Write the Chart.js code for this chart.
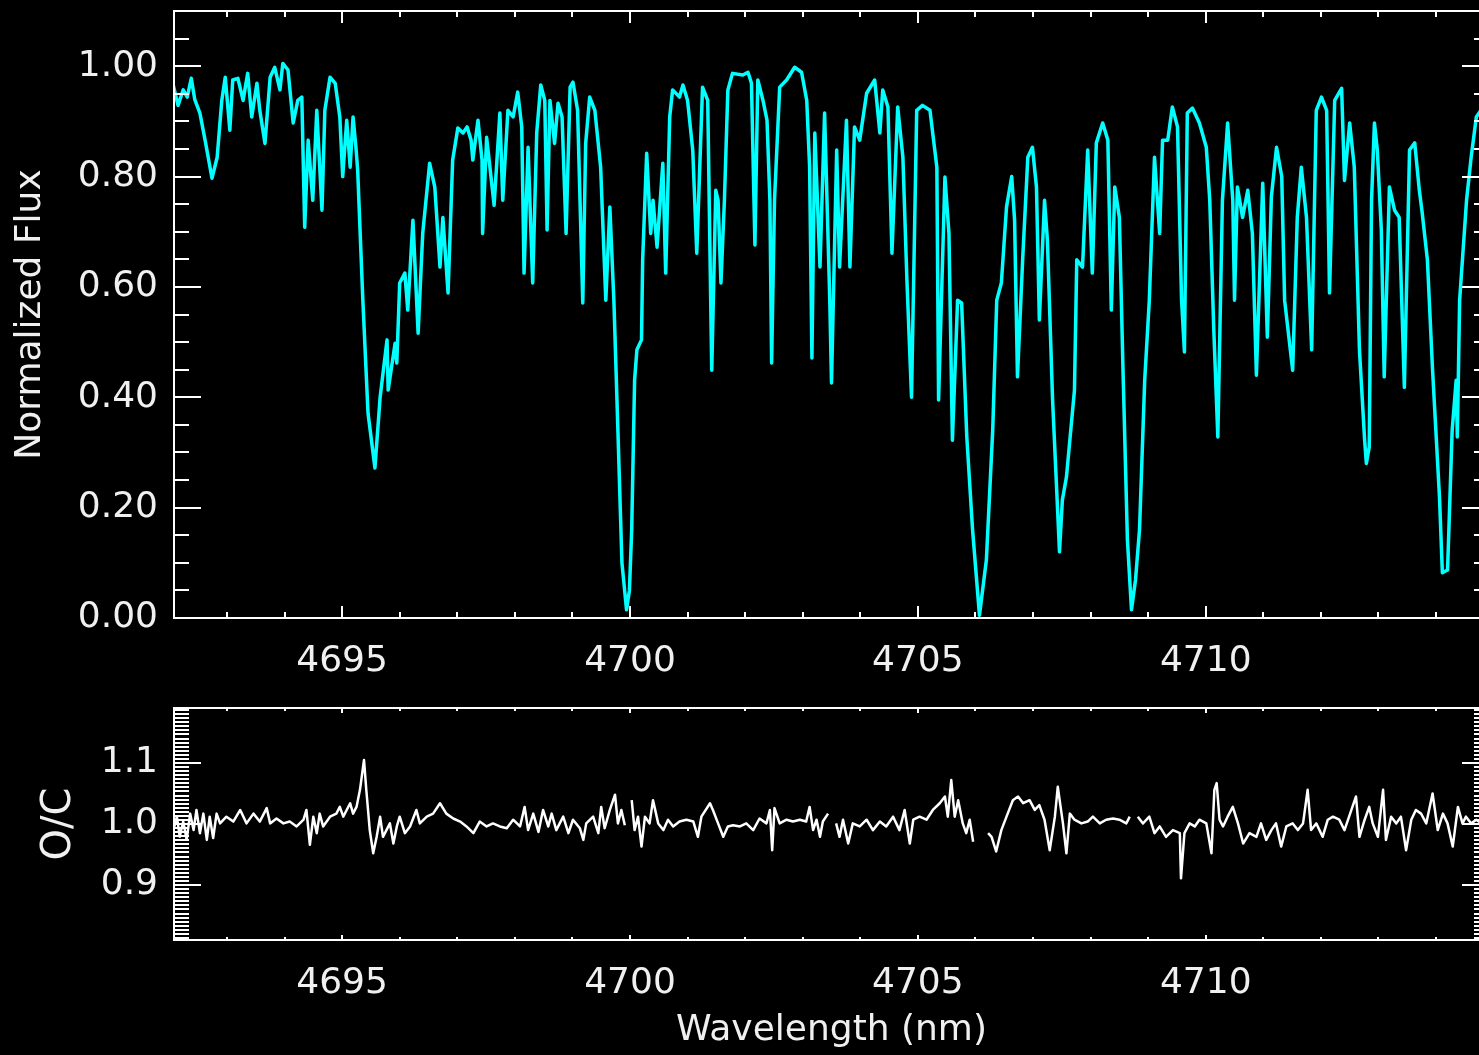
<!DOCTYPE html>
<html>
<head>
<meta charset="utf-8">
<title>Normalized flux and O/C residuals, 4692-4715 nm</title>
<script src="https://cdn.jsdelivr.net/npm/chart.js@4.4.1/dist/chart.umd.min.js"></script>
<style>
  html, body { margin: 0; padding: 0; background: #000; width: 1479px; height: 1055px; overflow: hidden; }
  #wrap { position: relative; width: 1479px; height: 1055px; overflow: hidden; background: #000; }
  #wrap canvas { position: absolute; left: 0; }
  #fluxChart { top: 0; }
  #ratioChart { top: 700px; }
</style>
</head>
<body>
<div id="wrap">
  <canvas id="fluxChart" width="1500" height="700"></canvas>
  <canvas id="ratioChart" width="1500" height="355"></canvas>
</div>
<script>
// ---- wavelength range and axis ticks ----
const waveMin = 4692.08;
const waveMax = 4714.92;
const waveTicks = [4695, 4700, 4705, 4710];
const fluxTicks = [0, 0.2, 0.4, 0.6, 0.8, 1.0];
const ratioTicks = [0.9, 1.0, 1.1];

// ---- model spectrum (normalized flux) ----
const specWave = [
  4692.06, 4692.15, 4692.24, 4692.31, 4692.38, 4692.44, 4692.53, 4692.62, 4692.74, 4692.83,
  4692.91, 4692.97, 4693.05, 4693.10, 4693.19, 4693.28, 4693.36, 4693.43, 4693.52, 4693.57,
  4693.66, 4693.75, 4693.83, 4693.92, 4693.97, 4694.06, 4694.15, 4694.23, 4694.30, 4694.35,
  4694.41, 4694.49, 4694.56, 4694.65, 4694.70, 4694.79, 4694.88, 4694.96, 4695.01, 4695.08,
  4695.14, 4695.19, 4695.24, 4695.27, 4695.36, 4695.45, 4695.57, 4695.66, 4695.78, 4695.80,
  4695.92, 4695.95, 4696.00, 4696.09, 4696.14, 4696.23, 4696.32, 4696.40, 4696.52, 4696.61,
  4696.70, 4696.75, 4696.84, 4696.92, 4697.01, 4697.10, 4697.17, 4697.24, 4697.27, 4697.36,
  4697.43, 4697.44, 4697.51, 4697.64, 4697.74, 4697.79, 4697.88, 4697.97, 4698.05, 4698.12,
  4698.16, 4698.23, 4698.31, 4698.38, 4698.45, 4698.52, 4698.56, 4698.61, 4698.69, 4698.75,
  4698.82, 4698.89, 4698.96, 4699.01, 4699.09, 4699.18, 4699.23, 4699.30, 4699.39, 4699.49,
  4699.58, 4699.65, 4699.72, 4699.79, 4699.86, 4699.94, 4699.99, 4700.03, 4700.08, 4700.12,
  4700.20, 4700.22, 4700.29, 4700.36, 4700.40, 4700.47, 4700.57, 4700.62, 4700.69, 4700.74,
  4700.86, 4700.92, 4701.00, 4701.09, 4701.16, 4701.26, 4701.35, 4701.42, 4701.49, 4701.53,
  4701.58, 4701.64, 4701.70, 4701.78, 4701.96, 4702.05, 4702.11, 4702.17, 4702.22, 4702.31,
  4702.38, 4702.43, 4702.46, 4702.51, 4702.60, 4702.72, 4702.86, 4702.98, 4703.07, 4703.12,
  4703.16, 4703.21, 4703.30, 4703.38, 4703.47, 4703.50, 4703.59, 4703.64, 4703.76, 4703.82,
  4703.90, 4703.99, 4704.11, 4704.25, 4704.34, 4704.39, 4704.48, 4704.55, 4704.65, 4704.74,
  4704.81, 4704.89, 4704.98, 4705.08, 4705.21, 4705.33, 4705.36, 4705.47, 4705.54, 4705.60,
  4705.69, 4705.76, 4705.85, 4705.95, 4706.07, 4706.19, 4706.30, 4706.37, 4706.45, 4706.54,
  4706.63, 4706.68, 4706.73, 4706.82, 4706.91, 4706.99, 4707.06, 4707.11, 4707.20, 4707.25,
  4707.34, 4707.46, 4707.51, 4707.58, 4707.72, 4707.76, 4707.86, 4707.95, 4708.03, 4708.10,
  4708.21, 4708.30, 4708.36, 4708.42, 4708.50, 4708.56, 4708.64, 4708.71, 4708.78, 4708.85,
  4708.94, 4709.02, 4709.11, 4709.20, 4709.25, 4709.34, 4709.42, 4709.51, 4709.58, 4709.63,
  4709.68, 4709.77, 4709.89, 4710.01, 4710.07, 4710.14, 4710.21, 4710.29, 4710.38, 4710.47,
  4710.50, 4710.55, 4710.64, 4710.73, 4710.81, 4710.88, 4710.99, 4711.07, 4711.14, 4711.23,
  4711.32, 4711.37, 4711.51, 4711.59, 4711.66, 4711.75, 4711.84, 4711.92, 4712.01, 4712.10,
  4712.15, 4712.24, 4712.36, 4712.41, 4712.50, 4712.58, 4712.67, 4712.76, 4712.79, 4712.84,
  4712.88, 4712.93, 4712.98, 4713.05, 4713.10, 4713.19, 4713.28, 4713.36, 4713.45, 4713.54,
  4713.63, 4713.71, 4713.76, 4713.85, 4713.94, 4714.06, 4714.11, 4714.20, 4714.28, 4714.35,
  4714.37, 4714.41, 4714.53, 4714.61, 4714.70, 4714.78, 4714.92
];
const specFlux = [
  0.969, 0.929, 0.957, 0.944, 0.978, 0.940, 0.915, 0.866, 0.797, 0.835,
  0.938, 0.980, 0.884, 0.975, 0.978, 0.938, 0.987, 0.908, 0.969, 0.920,
  0.860, 0.980, 0.998, 0.957, 1.005, 0.993, 0.897, 0.938, 0.944, 0.708,
  0.866, 0.757, 0.920, 0.739, 0.920, 0.980, 0.969, 0.908, 0.800, 0.902,
  0.817, 0.908, 0.853, 0.812, 0.576, 0.371, 0.272, 0.400, 0.504, 0.413,
  0.498, 0.462, 0.607, 0.625, 0.558, 0.721, 0.516, 0.697, 0.824, 0.781,
  0.636, 0.726, 0.589, 0.830, 0.888, 0.879, 0.890, 0.866, 0.830, 0.902,
  0.830, 0.697, 0.871, 0.748, 0.915, 0.757, 0.920, 0.908, 0.953, 0.890,
  0.625, 0.853, 0.607, 0.879, 0.966, 0.938, 0.703, 0.938, 0.860, 0.933,
  0.908, 0.697, 0.962, 0.971, 0.920, 0.571, 0.860, 0.944, 0.920, 0.817,
  0.576, 0.745, 0.576, 0.340, 0.100, 0.015, 0.050, 0.160, 0.431, 0.486,
  0.504, 0.649, 0.842, 0.697, 0.757, 0.672, 0.824, 0.625, 0.908, 0.957,
  0.944, 0.966, 0.938, 0.848, 0.661, 0.962, 0.938, 0.449, 0.775, 0.757,
  0.607, 0.757, 0.957, 0.987, 0.984, 0.989, 0.969, 0.676, 0.975, 0.938,
  0.902, 0.757, 0.462, 0.757, 0.962, 0.975, 0.998, 0.989, 0.938, 0.817,
  0.471, 0.879, 0.636, 0.915, 0.576, 0.426, 0.848, 0.636, 0.902, 0.636,
  0.890, 0.866, 0.951, 0.975, 0.879, 0.957, 0.926, 0.661, 0.926, 0.835,
  0.612, 0.400, 0.920, 0.929, 0.920, 0.817, 0.395, 0.799, 0.697, 0.322,
  0.576, 0.571, 0.328, 0.160, 0.005, 0.105, 0.340, 0.576, 0.607, 0.745,
  0.800, 0.721, 0.437, 0.649, 0.835, 0.853, 0.781, 0.540, 0.757, 0.685,
  0.395, 0.120, 0.214, 0.255, 0.413, 0.649, 0.636, 0.848, 0.625, 0.861,
  0.897, 0.866, 0.558, 0.781, 0.726, 0.462, 0.141, 0.015, 0.069, 0.160,
  0.431, 0.576, 0.835, 0.697, 0.866, 0.866, 0.926, 0.890, 0.576, 0.482,
  0.915, 0.924, 0.897, 0.853, 0.757, 0.522, 0.328, 0.757, 0.897, 0.757,
  0.576, 0.781, 0.726, 0.775, 0.697, 0.440, 0.788, 0.509, 0.763, 0.853,
  0.800, 0.576, 0.449, 0.726, 0.817, 0.726, 0.486, 0.920, 0.944, 0.920,
  0.589, 0.938, 0.960, 0.793, 0.897, 0.817, 0.486, 0.322, 0.280, 0.310,
  0.757, 0.897, 0.848, 0.703, 0.437, 0.781, 0.739, 0.726, 0.418, 0.848,
  0.861, 0.775, 0.734, 0.649, 0.449, 0.219, 0.082, 0.087, 0.340, 0.431,
  0.328, 0.576, 0.757, 0.835, 0.908, 0.920, 0.930
];

// ---- observed / computed ratio (null = masked line core) ----
const ratioWave = [
  4692.07, 4692.13, 4692.18, 4692.24, 4692.30, 4692.36, 4692.42, 4692.47, 4692.53, 4692.59,
  4692.65, 4692.70, 4692.76, 4692.82, 4692.88, 4692.99, 4693.11, 4693.23, 4693.34, 4693.46,
  4693.57, 4693.69, 4693.75, 4693.86, 4693.98, 4694.09, 4694.21, 4694.33, 4694.38, 4694.44,
  4694.50, 4694.56, 4694.61, 4694.67, 4694.79, 4694.90, 4694.96, 4695.02, 4695.14, 4695.19,
  4695.25, 4695.31, 4695.38, 4695.42, 4695.48, 4695.54, 4695.60, 4695.66, 4695.71, 4695.83,
  4695.89, 4695.95, 4696.00, 4696.09, 4696.18, 4696.29, 4696.35, 4696.47, 4696.58, 4696.70,
  4696.81, 4696.93, 4697.05, 4697.16, 4697.28, 4697.39, 4697.51, 4697.62, 4697.74, 4697.86,
  4697.97, 4698.09, 4698.17, 4698.23, 4698.32, 4698.41, 4698.49, 4698.58, 4698.64, 4698.72,
  4698.84, 4698.93, 4699.01, 4699.13, 4699.19, 4699.24, 4699.36, 4699.45, 4699.50, 4699.56,
  4699.65, 4699.74, 4699.79, 4699.85, 4699.91, 4699.96, 4700.03, 4700.08, 4700.14, 4700.20,
  4700.26, 4700.34, 4700.40, 4700.49, 4700.58, 4700.66, 4700.75, 4700.86, 4700.98, 4701.10,
  4701.18, 4701.24, 4701.39, 4701.44, 4701.53, 4701.62, 4701.70, 4701.79, 4701.91, 4702.02,
  4702.14, 4702.25, 4702.37, 4702.43, 4702.47, 4702.51, 4702.60, 4702.72, 4702.83, 4702.95,
  4703.06, 4703.12, 4703.18, 4703.24, 4703.30, 4703.35, 4703.44, 4703.48, 4703.58, 4703.64,
  4703.70, 4703.79, 4703.87, 4703.99, 4704.11, 4704.22, 4704.34, 4704.45, 4704.57, 4704.68,
  4704.77, 4704.86, 4704.92, 4705.03, 4705.15, 4705.26, 4705.38, 4705.47, 4705.52, 4705.58,
  4705.64, 4705.70, 4705.78, 4705.84, 4705.90, 4705.96, 4706.05, 4706.22, 4706.28, 4706.36,
  4706.45, 4706.54, 4706.65, 4706.74, 4706.83, 4706.94, 4707.03, 4707.11, 4707.20, 4707.29,
  4707.38, 4707.43, 4707.52, 4707.58, 4707.64, 4707.72, 4707.84, 4707.95, 4708.04, 4708.16,
  4708.27, 4708.39, 4708.50, 4708.62, 4708.68, 4708.72, 4708.82, 4708.91, 4709.02, 4709.11,
  4709.20, 4709.31, 4709.43, 4709.55, 4709.57, 4709.63, 4709.72, 4709.81, 4709.89, 4710.01,
  4710.10, 4710.15, 4710.19, 4710.24, 4710.30, 4710.38, 4710.47, 4710.56, 4710.65, 4710.76,
  4710.88, 4710.96, 4711.05, 4711.14, 4711.22, 4711.31, 4711.40, 4711.51, 4711.60, 4711.69,
  4711.77, 4711.83, 4711.92, 4712.03, 4712.12, 4712.21, 4712.32, 4712.41, 4712.53, 4712.61,
  4712.67, 4712.76, 4712.84, 4712.90, 4712.99, 4713.08, 4713.13, 4713.22, 4713.31, 4713.39,
  4713.48, 4713.57, 4713.65, 4713.74, 4713.83, 4713.94, 4714.03, 4714.12, 4714.20, 4714.29,
  4714.38, 4714.46, 4714.52, 4714.61, 4714.70, 4714.80
];
const ratioValue = [
  0.990, 1.012, 0.979, 1.004, 0.974, 1.017, 0.990, 1.023, 0.985, 1.017,
  0.974, 1.012, 0.977, 1.017, 1.001, 1.012, 1.004, 1.023, 1.001, 1.017,
  1.004, 1.026, 1.001, 1.009, 1.001, 1.004, 0.996, 1.007, 1.023, 0.966,
  1.012, 0.985, 1.017, 0.996, 1.012, 1.017, 1.028, 1.012, 1.034, 1.017,
  1.028, 1.056, 1.105, 1.056, 0.990, 0.952, 0.979, 1.012, 0.979, 1.001,
  0.968, 0.996, 1.012, 0.985, 0.996, 1.023, 1.001, 1.012, 1.017, 1.034,
  1.017, 1.009, 1.004, 0.996, 0.985, 1.004, 0.996, 1.001, 0.996, 0.993,
  1.007, 0.996, 1.028, 0.990, 1.017, 0.987, 1.023, 0.996, 1.017, 0.990,
  1.012, 0.985, 1.007, 0.993, 0.974, 1.001, 1.012, 0.985, 1.028, 0.993,
  1.023, 1.048, 1.001, 1.023, 0.998, null, 1.039, 0.990, 1.012, 0.963,
  1.012, 1.001, 1.039, 1.001, 0.990, 1.007, 0.996, 1.004, 1.007, 1.004,
  0.979, 1.012, 1.034, 1.023, 1.001, 0.979, 0.996, 0.998, 0.996, 1.001,
  0.990, 1.009, 1.001, 1.023, 0.957, 1.026, 1.001, 1.007, 1.004, 1.007,
  1.004, 1.028, 0.990, 1.007, 0.979, 1.004, 1.017, null, 1.001, 0.979,
  1.007, 0.968, 1.001, 0.996, 1.007, 0.990, 1.004, 0.996, 1.012, 0.990,
  1.023, 0.968, 1.007, 1.012, 1.007, 1.023, 1.034, 1.045, 1.012, 1.072,
  1.012, 1.039, 1.001, 0.985, 1.007, 0.971, null, 0.985, 0.979, 0.955,
  0.990, 1.012, 1.039, 1.045, 1.034, 1.039, 1.023, 1.031, 1.007, 0.957,
  1.012, 1.061, 1.001, 0.952, 1.017, 1.007, 1.001, 1.004, 1.012, 1.001,
  1.007, 1.009, 1.007, 1.001, 1.012, null, 1.012, 1.001, 1.012, 0.985,
  0.996, 0.979, 0.990, 0.985, 0.911, 0.985, 1.001, 0.996, 1.007, 1.001,
  0.952, 1.056, 1.067, 1.007, 0.996, 1.012, 1.028, 1.001, 0.968, 0.985,
  0.979, 1.001, 0.974, 0.990, 1.001, 0.963, 0.996, 1.001, 0.990, 1.001,
  1.056, 0.990, 1.001, 0.979, 1.007, 1.012, 1.007, 0.990, 1.023, 1.045,
  0.979, 1.007, 1.028, 1.001, 0.979, 1.056, 0.974, 1.012, 1.001, 1.012,
  0.957, 1.007, 1.023, 1.017, 1.001, 1.050, 0.990, 1.017, 1.001, 0.963,
  1.028, 1.001, 1.012, 1.001, 1.007, 1.000
];

// ---- styling ----
const FONT = '"DejaVu Sans", "Liberation Sans", Arial, sans-serif';
const INK = '#f0f0f0';

const toPoints = (xs, ys) => xs.map((x, i) => ({ x: x, y: ys[i] }));

// minor tick values between min and max on a regular step
function stepValues(min, max, step) {
  const out = [];
  for (let k = Math.ceil(min / step - 1e-6); k * step <= max + 1e-9; k++) {
    out.push(k * step);
  }
  return out;
}

// Closed plot box with inward ticks on all four sides (IDL style)
const boxTicks = {
  id: 'boxTicks',
  afterDatasetsDraw(chart, _args, o) {
    const { ctx, chartArea: a } = chart;
    const xs = chart.scales.x, ys = chart.scales.y;
    const major = (scale, v, step) => scale.ticks.some(t => Math.abs(t.value - v) < step / 2);
    ctx.save();
    ctx.strokeStyle = o.color;
    ctx.lineWidth = o.width;
    ctx.lineCap = 'butt';
    ctx.beginPath();
    for (const v of stepValues(xs.min, xs.max, o.xStep)) {
      const p = Math.round(xs.getPixelForValue(v));
      const len = major(xs, v, o.xStep) ? o.xMajor : o.xMinor;
      ctx.moveTo(p, a.bottom); ctx.lineTo(p, a.bottom - len);
      ctx.moveTo(p, a.top);    ctx.lineTo(p, a.top + len);
    }
    for (const v of stepValues(ys.min, ys.max, o.yStep)) {
      const p = Math.round(ys.getPixelForValue(v));
      const len = major(ys, v, o.yStep) ? o.yMajor : o.yMinor;
      ctx.moveTo(a.left, p);  ctx.lineTo(a.left + len, p);
      ctx.moveTo(a.right, p); ctx.lineTo(a.right - len, p);
    }
    ctx.stroke();
    ctx.strokeRect(a.left, a.top, a.right - a.left, a.bottom - a.top);
    ctx.restore();
  }
};

function panelOptions(p) {
  return {
    responsive: false,
    animation: false,
    devicePixelRatio: 1,
    layout: { padding: { left: 0, top: p.padTop, right: 11, bottom: 0 } },
    plugins: {
      legend: { display: false },
      tooltip: { enabled: false },
      boxTicks: Object.assign({ color: '#ffffff', width: 2, xStep: 1 }, p.ticks)
    },
    scales: {
      x: {
        type: 'linear',
        min: waveMin,
        max: waveMax,
        afterBuildTicks: s => { s.ticks = waveTicks.map(v => ({ value: v })); },
        afterFit: s => { s.height = p.xHeight; s.paddingLeft = 0; s.paddingRight = 0; },
        grid: { display: false, drawTicks: false },
        border: { display: false },
        ticks: {
          color: INK, padding: 22, maxRotation: 0, autoSkip: false,
          font: { family: FONT, size: 36 },
          callback: v => String(v)
        },
        title: p.xTitle
          ? { display: true, text: p.xTitle, color: INK, font: { family: FONT, size: 36 }, padding: { top: 0, bottom: 3 } }
          : { display: false }
      },
      y: {
        type: 'linear',
        min: p.yMin,
        max: p.yMax,
        afterBuildTicks: s => { s.ticks = p.yTicks.map(v => ({ value: v })); },
        afterFit: s => { s.width = 174; s.paddingTop = 0; s.paddingBottom = 0; },
        grid: { display: false, drawTicks: false },
        border: { display: false },
        ticks: {
          color: INK, padding: 16, autoSkip: false,
          font: { family: FONT, size: 36 },
          callback: v => Number(v).toFixed(p.digits)
        },
        title: {
          display: true, text: p.yTitle, color: INK,
          font: { family: FONT, size: p.yTitleSize },
          padding: { top: p.yTitlePad, bottom: 0 }
        }
      }
    }
  };
}

// Upper panel: synthetic spectrum
new Chart(document.getElementById('fluxChart'), {
  type: 'line',
  data: {
    datasets: [{
      label: 'Model',
      data: toPoints(specWave, specFlux),
      borderColor: '#00ffff',
      borderWidth: 3.5,
      borderJoinStyle: 'round',
      pointRadius: 0,
      tension: 0
    }]
  },
  options: panelOptions({
    padTop: 11, xHeight: 82,
    yMin: 0, yMax: 1.10, yTicks: fluxTicks, digits: 2,
    yTitle: 'Normalized Flux', yTitleSize: 36, yTitlePad: 9,
    ticks: { yStep: 0.05, xMajor: 12, xMinor: 6, yMajor: 27, yMinor: 15 }
  }),
  plugins: [boxTicks]
});

// Lower panel: O/C residuals
new Chart(document.getElementById('ratioChart'), {
  type: 'line',
  data: {
    datasets: [{
      label: 'O/C',
      data: toPoints(ratioWave, ratioValue),
      borderColor: '#ffffff',
      borderWidth: 2.5,
      borderJoinStyle: 'round',
      pointRadius: 0,
      tension: 0,
      spanGaps: false
    }]
  },
  options: panelOptions({
    padTop: 8, xHeight: 115,
    yMin: 0.81, yMax: 1.19, yTicks: ratioTicks, digits: 1,
    yTitle: 'O/C', yTitleSize: 40, yTitlePad: 36,
    xTitle: 'Wavelength (nm)',
    ticks: { yStep: 1 / 150, xMajor: 5, xMinor: 3, yMajor: 27, yMinor: 15 }
  }),
  plugins: [boxTicks]
});
</script>
</body>
</html>
